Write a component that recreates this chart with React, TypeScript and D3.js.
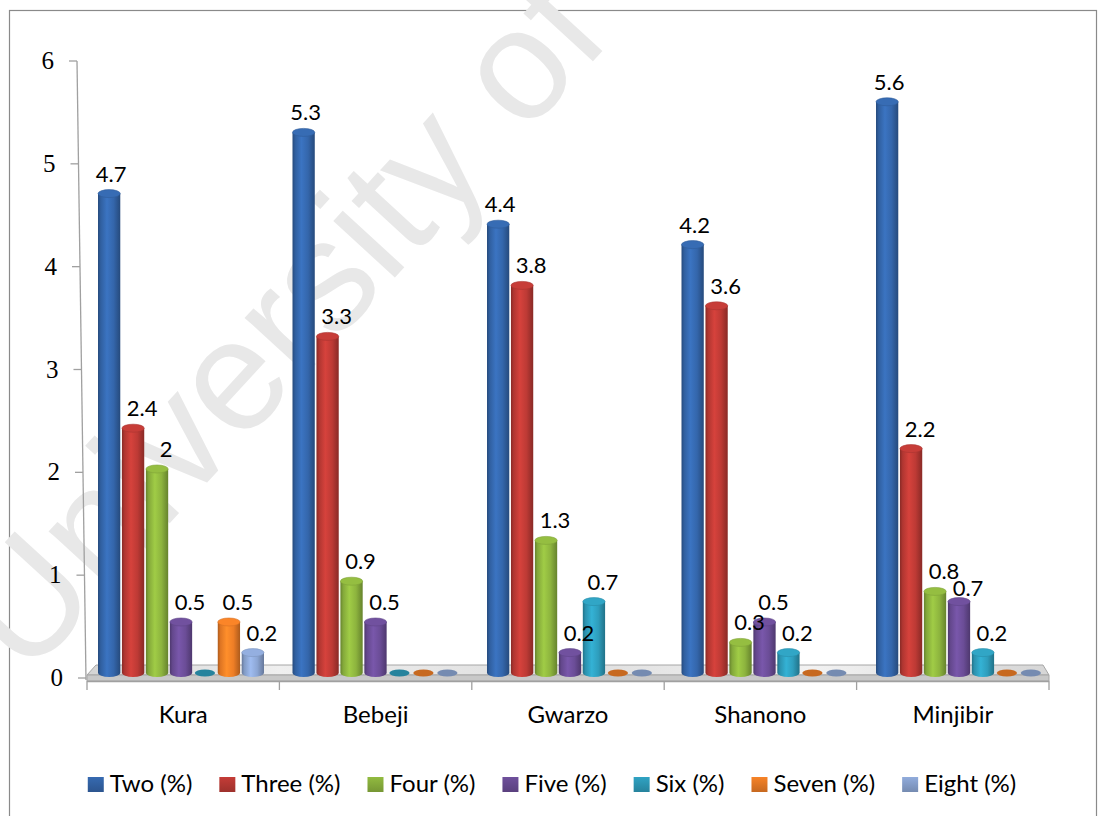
import React, { useEffect, useRef } from "react";
import * as d3 from "d3";

const categories = ["Kura", "Bebeji", "Gwarzo", "Shanono", "Minjibir"];
const seriesNames = ["Two (%)", "Three (%)", "Four (%)", "Five (%)", "Six (%)", "Seven (%)", "Eight (%)"];
const two = [4.7, 5.3, 4.4, 4.2, 5.6];
const three = [2.4, 3.3, 3.8, 3.6, 2.2];
const four = [2, 0.9, 1.3, 0.3, 0.8];
const five = [0.5, 0.5, 0.2, 0.5, 0.7];
const six = [0, 0, 0.7, 0.2, 0.2];
const seven = [0.5, 0, 0, 0, 0];
const eight = [0.2, 0, 0, 0, 0];
const yTicks = [0, 1, 2, 3, 4, 5, 6];
const seriesColors = ["#3466AB", "#BD3A35", "#8DB43E", "#6B4D97", "#2E9DBC", "#EE7E26", "#8CA6D4"];
const watermark = "University of Ibadan";

const seriesValues = [two, three, four, five, six, seven, eight];

export default function App() {
  const ref = useRef<SVGSVGElement>(null);
  useEffect(() => {
    const svg = d3.select(ref.current);
    svg.selectAll("*").remove();
    const defs = svg.append("defs");
    const labelFont = "Lato, 'Open Sans', sans-serif";

    // frame
    svg.append("rect").attr("x", 9.5).attr("y", 10.5).attr("width", 1087).attr("height", 840)
      .attr("fill", "#fff").attr("stroke", "#8a8a8a").attr("stroke-width", 1.2);

    // watermark
    svg.append("text").attr("transform", "translate(26,680) rotate(-47.5)")
      .attr("font-family", "'Liberation Sans', Arial, sans-serif").attr("font-size", 158)
      .attr("fill", "#e8e8e8").text(watermark);

    const yAxisScale = d3.scaleLinear().domain([0, 6]).range([678, 61]);
    const yBar = d3.scaleLinear().domain([0, 6]).range([673, 61]);
    const xAxis = d3.scaleBand<string>().domain(categories).range([87, 1049]);
    const xGroup = d3.scaleBand<string>().domain(categories).range([98, 1070.5]);
    const xInner = d3.scaleBand<string>().domain(seriesNames).range([0, 166]).paddingInner(0.07);
    const axisXAt = (y: number) => 77 + (y - 61) * 9 / 619;

    // floor gradient
    const fg = defs.append("linearGradient").attr("id", "floorGrad").attr("x1", 0).attr("x2", 1).attr("y1", 0).attr("y2", 0);
    [[0, "#d4d4d4"], [0.2, "#efefef"], [0.5, "#dedede"], [0.75, "#f2f2f2"], [1, "#d6d6d6"]].forEach(([o, c]) =>
      fg.append("stop").attr("offset", o as number).attr("stop-color", c as string));
    svg.append("polygon").attr("points", "96,665 1043,665 1049,675 87,675")
      .attr("fill", "url(#floorGrad)").attr("stroke", "#a6a6a6").attr("stroke-width", 1);
    svg.append("polygon").attr("points", "87,675 1049,675 1049,681 87,681")
      .attr("fill", "#c8c8c8").attr("stroke", "#a6a6a6").attr("stroke-width", 1);

    // y axis
    svg.append("line").attr("x1", 77).attr("y1", 61).attr("x2", 86).attr("y2", 680)
      .attr("stroke", "#a0a0a0").attr("stroke-width", 1.3);
    yTicks.forEach(t => {
      const y = yAxisScale(t);
      const ax = axisXAt(y);
      svg.append("line").attr("x1", ax - 8).attr("x2", ax).attr("y1", y).attr("y2", y)
        .attr("stroke", "#a0a0a0").attr("stroke-width", 1.3);
      svg.append("text").attr("x", ax - 23).attr("y", y + 8).attr("text-anchor", "end")
        .attr("font-family", "'Liberation Serif', 'Times New Roman', serif").attr("font-size", 25)
        .attr("fill", "#000").text(String(t));
    });

    // category axis
    svg.append("line").attr("x1", 87).attr("x2", 1049).attr("y1", 681.5).attr("y2", 681.5)
      .attr("stroke", "#a0a0a0").attr("stroke-width", 1.3);
    const edges = categories.map(c => xAxis(c) as number).concat([xAxis.range()[1]]);
    edges.forEach(x => {
      svg.append("line").attr("x1", x).attr("x2", x).attr("y1", 681).attr("y2", 690)
        .attr("stroke", "#a0a0a0").attr("stroke-width", 1.3);
    });
    categories.forEach(c => {
      svg.append("text").attr("x", (xAxis(c) as number) + xAxis.bandwidth() / 2).attr("y", 723)
        .attr("text-anchor", "middle").attr("font-family", labelFont).attr("font-size", 24)
        .attr("fill", "#000").text(c);
    });

    // gradients per series
    seriesColors.forEach((col, i) => {
      const base = d3.color(col)!;
      const g = defs.append("linearGradient").attr("id", "cyl" + i).attr("x1", 0).attr("x2", 1).attr("y1", 0).attr("y2", 0);
      [[0, base.darker(0.9)], [0.12, base.darker(0.2)], [0.4, base.brighter(0.35)], [0.7, base], [1, base.darker(0.9)]]
        .forEach(([o, c]) => g.append("stop").attr("offset", o as number).attr("stop-color", String(c)));
    });

    const bw = xInner.bandwidth();
    const r = bw / 2;
    const ry = 4;
    const baseY = yBar(0);
    const labels: { x: number; y: number; t: string; w: number }[] = [];

    categories.forEach((cat, ci) => {
      const placed: { x0: number; x1: number; y0: number; y1: number }[] = [];
      seriesNames.forEach((s, si) => {
        const v = seriesValues[si][ci];
        const cx = (xGroup(cat) as number) + (xInner(s) as number) + r;
        const col = d3.color(seriesColors[si])!;
        if (v === 0) {
          svg.append("ellipse").attr("cx", cx).attr("cy", baseY).attr("rx", r - 1).attr("ry", 3.5)
            .attr("fill", String(col.darker(0.5)));
          return;
        }
        const top = yBar(v);
        svg.append("path")
          .attr("d", `M${cx - r},${top} L${cx - r},${baseY} A${r},${ry} 0 0 0 ${cx + r},${baseY} L${cx + r},${top} Z`)
          .attr("fill", `url(#cyl${si})`);
        svg.append("ellipse").attr("cx", cx).attr("cy", top).attr("rx", r).attr("ry", ry)
          .attr("fill", String(col.brighter(0.15))).attr("stroke", String(col.darker(0.3))).attr("stroke-width", 0.6);

        // label
        const t = String(v);
        const w = t.length * 10.5;
        const lx = cx + (si === 0 ? 2 : 9);
        let ly = top - 12;
        for (let k = 0; k < 3; k++) {
          const hit = placed.find(p => lx - w / 2 < p.x1 && lx + w / 2 > p.x0 && ly - 16 < p.y1 && ly > p.y0);
          if (!hit) break;
          ly = hit.y1 + 17;
        }
        placed.push({ x0: lx - w / 2, x1: lx + w / 2, y0: ly - 16, y1: ly });
        labels.push({ x: lx, y: ly, t, w });
      });
    });

    labels.forEach(l => {
      svg.append("text").attr("x", l.x).attr("y", l.y).attr("text-anchor", "middle")
        .attr("font-family", labelFont).attr("font-size", 22).attr("fill", "#000").text(l.t);
    });

    // legend
    const lg = svg.append("g");
    let x = 0;
    seriesNames.forEach((s, i) => {
      const g = lg.append("g");
      const grad = defs.append("linearGradient").attr("id", "leg" + i).attr("x1", 0).attr("x2", 0).attr("y1", 0).attr("y2", 1);
      const c = d3.color(seriesColors[i])!;
      grad.append("stop").attr("offset", 0).attr("stop-color", String(c.brighter(0.1)));
      grad.append("stop").attr("offset", 1).attr("stop-color", String(c.darker(0.5)));
      g.append("rect").attr("x", x).attr("y", 777).attr("width", 16).attr("height", 15).attr("fill", `url(#leg${i})`);
      const txt = g.append("text").attr("x", x + 22).attr("y", 792).attr("font-family", labelFont)
        .attr("font-size", 24).attr("fill", "#000").text(s);
      const tw = (txt.node() as SVGTextElement).getComputedTextLength();
      x += 22 + tw + 27;
    });
    const total = x - 27;
    lg.attr("transform", `translate(${552 - total / 2},0)`);
  }, []);
  return <svg ref={ref} width={1101} height={816} style={{ position: "absolute", left: 0, top: 0 }} />;
}
